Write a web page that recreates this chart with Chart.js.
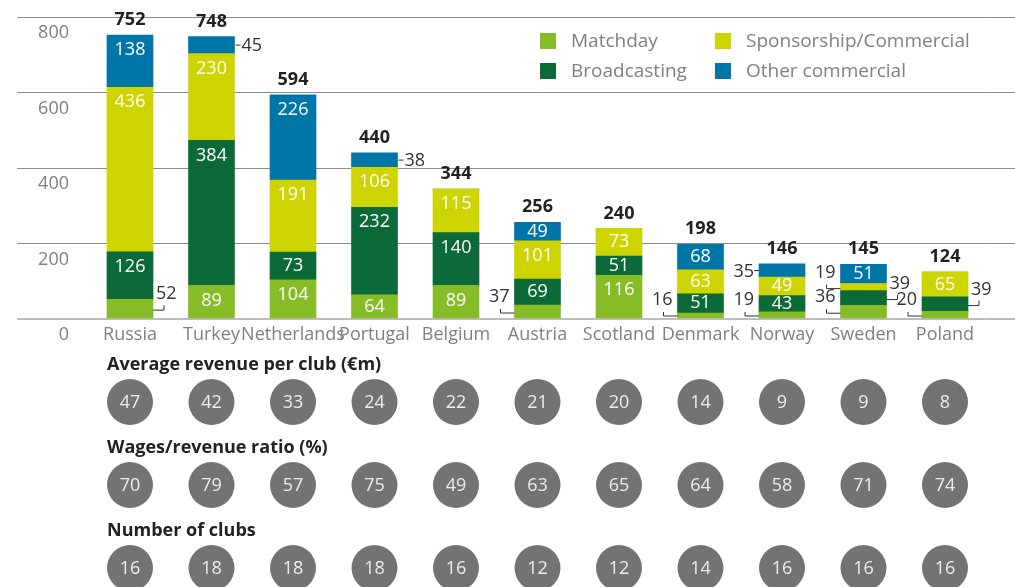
<!DOCTYPE html>
<html>
<head>
<meta charset="utf-8">
<script src="https://cdn.jsdelivr.net/npm/chart.js@4/dist/chart.umd.min.js"></script>
<style>
  body { margin: 0; background: #fff; }
  canvas { display: block; }
</style>
</head>
<body>
<canvas id="revenueChart" width="1015" height="345"></canvas>
<canvas id="statsChart" width="1015" height="242"></canvas>
<script>
// revenue in €m
const countries = ['Russia', 'Turkey', 'Netherlands', 'Portugal', 'Belgium', 'Austria', 'Scotland', 'Denmark', 'Norway', 'Sweden', 'Poland'];
const matchday = [52, 89, 104, 64, 89, 37, 116, 16, 19, 36, 20];
const broadcasting = [126, 384, 73, 232, 140, 69, 51, 51, 43, 39, 39];
const sponsorship = [436, 230, 191, 106, 115, 101, 73, 63, 49, 19, 65];
const otherCommercial = [138, 45, 226, 38, 0, 49, 0, 68, 35, 51, 0];
const totals = [752, 748, 594, 440, 344, 256, 240, 198, 146, 145, 124];
const yTicks = [0, 200, 400, 600, 800];

const avgRevenue = [47, 42, 33, 24, 22, 21, 20, 14, 9, 9, 8];
const wageRatio = [70, 79, 57, 75, 49, 63, 65, 64, 58, 71, 74];
const clubCount = [16, 18, 18, 18, 16, 12, 12, 14, 16, 16, 16];
const rowTitles = ['Average revenue per club (€m)', 'Wages/revenue ratio (%)', 'Number of clubs'];

// which small segments get their label outside the bar (country|dataset index)
const outside = {
  'Russia|0': 'rightBracket',
  'Turkey|3': 'rightDash',
  'Portugal|3': 'rightDash',
  'Austria|0': 'leftBracket',
  'Denmark|0': 'leftBracket',
  'Norway|0': 'leftBracket',
  'Norway|3': 'leftDash',
  'Sweden|0': 'leftBracket',
  'Sweden|1': 'rightBracket',
  'Sweden|2': 'leftBracket',
  'Poland|0': 'leftBracket',
  'Poland|1': 'rightBracket'
};

Chart.defaults.font.family = "'Open Sans', sans-serif";
Chart.defaults.font.size = 18;
Chart.defaults.color = '#808080';

const FONT = "'Open Sans', sans-serif";
const AXIS_LEFT = 89.25;   // width of the left axis area
const AXIS_RIGHT = 29.25;  // gridlines run past the last bar to the edge

// labels inside/outside segments, plus the totals on top
const barLabels = {
  id: 'barLabels',
  afterDatasetsDraw(chart) {
    const ctx = chart.ctx;
    ctx.save();
    ctx.textBaseline = 'middle';
    ctx.font = '18px ' + FONT;
    ctx.strokeStyle = '#333';
    ctx.lineWidth = 1;
    chart.data.datasets.forEach((ds, di) => {
      chart.getDatasetMeta(di).data.forEach((bar, i) => {
        const v = ds.data[i];
        if (!v) return;
        const top = bar.y, bottom = bar.base, mid = (top + bottom) / 2;
        const left = bar.x - bar.width / 2, right = bar.x + bar.width / 2;
        const place = outside[countries[i] + '|' + di];
        if (!place) {
          ctx.fillStyle = '#fff';
          ctx.textAlign = 'center';
          ctx.fillText(v, bar.x, Math.min(top + 15, mid));
          return;
        }
        ctx.fillStyle = '#333';
        ctx.beginPath();
        if (place === 'rightDash') {
          ctx.moveTo(right + 1, mid); ctx.lineTo(right + 6, mid);
          ctx.textAlign = 'left';
          ctx.fillText(v, right + 7, mid + 1);
        } else if (place === 'leftDash') {
          ctx.moveTo(left - 5, mid); ctx.lineTo(left, mid);
          ctx.textAlign = 'right';
          ctx.fillText(v, left - 5, mid + 1);
        } else if (place === 'rightBracket') {
          const ly = Math.min(mid + 1.5, 316);
          ctx.moveTo(right, ly); ctx.lineTo(right + 11, ly); ctx.lineTo(right + 11, ly - 5);
          ctx.textAlign = 'left';
          ctx.fillText(v, right + 3, ly - 16);
        } else {
          const ly = Math.min(mid + 1.5, 316);
          ctx.moveTo(left, ly); ctx.lineTo(left - 14, ly); ctx.lineTo(left - 14, ly - 4);
          ctx.textAlign = 'right';
          ctx.fillText(v, left - 5, ly - 16);
        }
        ctx.stroke();
      });
    });
    // totals
    ctx.fillStyle = '#222';
    ctx.textAlign = 'center';
    ctx.font = 'bold 18px ' + FONT;
    totals.forEach((t, i) => {
      const x = chart.scales.x.getPixelForValue(i);
      const y = chart.scales.y.getPixelForValue(t);
      ctx.fillText(t, x, y - 15);
    });
    ctx.restore();
  }
};

// two-column legend in the top right
const gridLegend = {
  id: 'gridLegend',
  afterDraw(chart) {
    const ctx = chart.ctx;
    ctx.save();
    ctx.font = '19px ' + FONT;
    ctx.textBaseline = 'middle';
    ctx.textAlign = 'left';
    chart.data.datasets.forEach((ds, i) => {
      const x = i < 2 ? 540 : 715;
      const y = i % 2 === 0 ? 41 : 71;
      ctx.fillStyle = ds.backgroundColor;
      ctx.fillRect(x, y - 8, 16, 16);
      ctx.fillStyle = '#808080';
      ctx.fillText(ds.label, x + 31, y + 1);
    });
    ctx.restore();
  }
};

new Chart(document.getElementById('revenueChart'), {
  type: 'bar',
  data: {
    labels: countries,
    datasets: [
      { label: 'Matchday', data: matchday, backgroundColor: '#86bc25' },
      { label: 'Broadcasting', data: broadcasting, backgroundColor: '#0c6a38' },
      { label: 'Sponsorship/Commercial', data: sponsorship, backgroundColor: '#ced400' },
      { label: 'Other commercial', data: otherCommercial, backgroundColor: '#0076a8' }
    ]
  },
  options: {
    responsive: false,
    animation: false,
    devicePixelRatio: 1,
    barThickness: 46,
    layout: { padding: { top: 17, left: 0, right: 0, bottom: 0 } },
    plugins: { legend: { display: false }, tooltip: { enabled: false } },
    scales: {
      x: {
        stacked: true,
        grid: { display: false, drawTicks: false },
        border: { display: false },
        ticks: { autoSkip: false, maxRotation: 0, minRotation: 0, padding: 5, color: '#808080' },
        afterFit(scale) { scale.height = 26; }
      },
      y: {
        stacked: true,
        min: 0,
        max: 800,
        afterBuildTicks(scale) { scale.ticks = yTicks.map(v => ({ value: v })); },
        border: { display: false },
        grid: {
          color: (c) => c.tick && c.tick.value === 0 ? '#bdbdbd' : '#8c8c8c',
          lineWidth: (c) => c.tick && c.tick.value === 0 ? 2 : 1,
          tickLength: 72
        },
        ticks: { padding: -51.75, labelOffset: 16, color: '#808080' },
        afterFit(scale) { scale.width = AXIS_LEFT; }
      },
      yR: {
        position: 'right',
        min: 0,
        max: 800,
        afterBuildTicks(scale) { scale.ticks = yTicks.map(v => ({ value: v })); },
        border: { display: false },
        grid: {
          drawOnChartArea: false,
          color: (c) => c.tick && c.tick.value === 0 ? '#bdbdbd' : '#8c8c8c',
          lineWidth: (c) => c.tick && c.tick.value === 0 ? 2 : 1,
          tickLength: AXIS_RIGHT
        },
        ticks: { display: false },
        afterFit(scale) { scale.width = AXIS_RIGHT; }
      }
    }
  },
  plugins: [barLabels, gridLegend]
});

// numbers written in the grey circles
const circleLabels = {
  id: 'circleLabels',
  afterDatasetsDraw(chart) {
    const ctx = chart.ctx;
    ctx.save();
    ctx.font = '18px ' + FONT;
    ctx.fillStyle = '#ececec';
    ctx.textAlign = 'center';
    ctx.textBaseline = 'middle';
    chart.data.datasets.forEach((ds, di) => {
      chart.getDatasetMeta(di).data.forEach((pt, i) => {
        ctx.fillText(ds.values[i], pt.x, pt.y + 1);
      });
    });
    ctx.restore();
  }
};

function circleRow(title, values) {
  return {
    label: title,
    values: values,
    data: countries.map(c => ({ x: c, y: title })),
    backgroundColor: '#737373',
    borderWidth: 0,
    pointRadius: 23,
    pointHoverRadius: 23,
    clip: false
  };
}

new Chart(document.getElementById('statsChart'), {
  type: 'scatter',
  data: {
    datasets: [
      circleRow(rowTitles[0], avgRevenue),
      circleRow(rowTitles[1], wageRatio),
      circleRow(rowTitles[2], clubCount)
    ]
  },
  options: {
    responsive: false,
    animation: false,
    devicePixelRatio: 1,
    layout: { autoPadding: false, padding: { top: 57, left: 0, right: AXIS_RIGHT, bottom: 19 } },
    plugins: { legend: { display: false }, tooltip: { enabled: false } },
    scales: {
      x: { type: 'category', labels: countries, offset: true, display: false },
      y: {
        type: 'category',
        labels: rowTitles,
        offset: false,
        grid: { display: false },
        border: { display: false },
        ticks: {
          mirror: true,
          padding: 107 - AXIS_LEFT,
          labelOffset: -37,
          color: '#222',
          font: { weight: 'bold', size: 18 }
        },
        afterFit(scale) {
          scale.width = AXIS_LEFT;
          scale.paddingTop = 0;
          scale.paddingBottom = 0;
        }
      }
    }
  },
  plugins: [circleLabels]
});
</script>
</body>
</html>
